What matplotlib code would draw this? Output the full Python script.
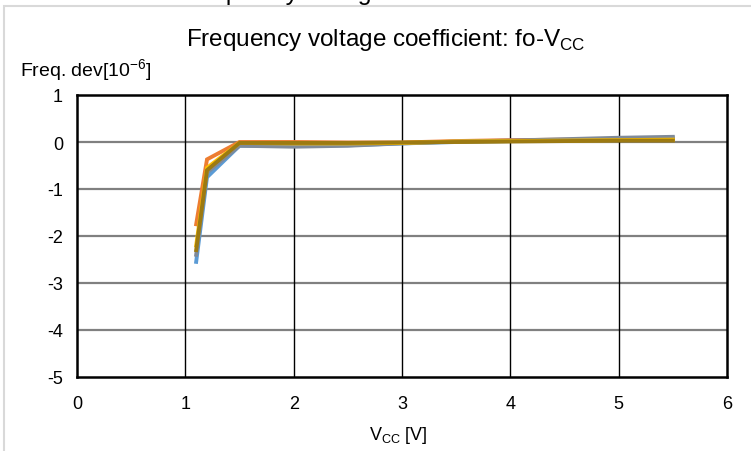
import numpy as np
import matplotlib
matplotlib.use('Agg')
import matplotlib.pyplot as plt
from matplotlib.patches import Rectangle

plt.rcParams['font.family'] = ['Liberation Sans', 'DejaVu Sans']
plt.rcParams['mathtext.fontset'] = 'custom'
plt.rcParams['mathtext.rm'] = 'Liberation Sans'

# supply voltage points [V]
vcc = [1.1, 1.2, 1.5, 2.0, 2.5, 3.0, 3.5, 4.0, 4.5, 5.0, 5.5]

# frequency deviation per sample [10^-6]
s1 = [-2.55, -0.75, -0.08, -0.08, -0.07, -0.03, 0.00, 0.02, 0.04, 0.06, 0.08]
s2 = [-1.75, -0.37, 0.00, 0.00, -0.01, -0.01, 0.02, 0.04, 0.05, 0.05, 0.05]
s3 = [-2.40, -0.65, -0.08, -0.10, -0.08, -0.03, 0.01, 0.03, 0.06, 0.09, 0.11]
s4 = [-2.20, -0.55, -0.02, -0.03, -0.03, -0.02, 0.01, 0.02, 0.03, 0.04, 0.05]
s5 = [-2.30, -0.60, -0.02, -0.02, -0.02, -0.01, 0.00, 0.01, 0.02, 0.03, 0.03]
series = [s1, s2, s3, s4, s5]
colors = ['#5b9bd5', '#ed7d31', '#7f8a99', '#ffc000', '#9c7a12']

fig = plt.figure(figsize=(7.51, 4.52), dpi=100)

# gray frame of the surrounding chart area (only left and top edges visible)
fig.patches.append(Rectangle((4/751, -0.1), 1.2, 1.1 - 7/452, transform=fig.transFigure,
                             fill=False, edgecolor='#d9d9d9', linewidth=1.5))
# heading cut off at the top of the picture
fig.text(180/751, 1.0, 'Frequency voltage characteristics', fontsize=18, va='baseline')

ax = fig.add_axes([77/751, 1 - 378/452, (727-77)/751, (378-96)/452])
for s, c in zip(series, colors):
    ax.plot(vcc, s, color=c, lw=2.8, solid_joinstyle='miter')

ax.set_xlim(0, 6)
ax.set_ylim(-5, 1)
ax.set_xticks(np.arange(0, 7, 1))
ax.set_yticks(np.arange(-5, 2, 1))
ax.set_yticklabels(['-5', '-4', '-3', '-2', '-1', '0', '1'])
ax.tick_params(length=0, labelsize=13)
ax.tick_params(axis='x', pad=13)
ax.tick_params(axis='y', pad=10)
ax.grid(False)
for y in range(-4, 1):
    ax.axhline(y, color='#808080', lw=1.6, zorder=0)
for x in range(1, 6):
    ax.axvline(x, color='black', lw=1.0, zorder=0)
for sp in ax.spines.values():
    sp.set_linewidth(1.8)

fig.text(386/751, 1 - 40/452, r'Frequency voltage coefficient: fo-V$_{\mathregular{CC}}$',
         ha='center', va='center', fontsize=17.5)
fig.text(20/751, 1 - 71/452, r'Freq. dev[10$^{\mathregular{-6}}$]', ha='left', va='center', fontsize=14)
fig.text(398/751, 1 - 436/452, r'V$_{\mathregular{CC}}$ [V]', ha='center', va='center', fontsize=13)

fig.savefig('out.png', dpi=100)
